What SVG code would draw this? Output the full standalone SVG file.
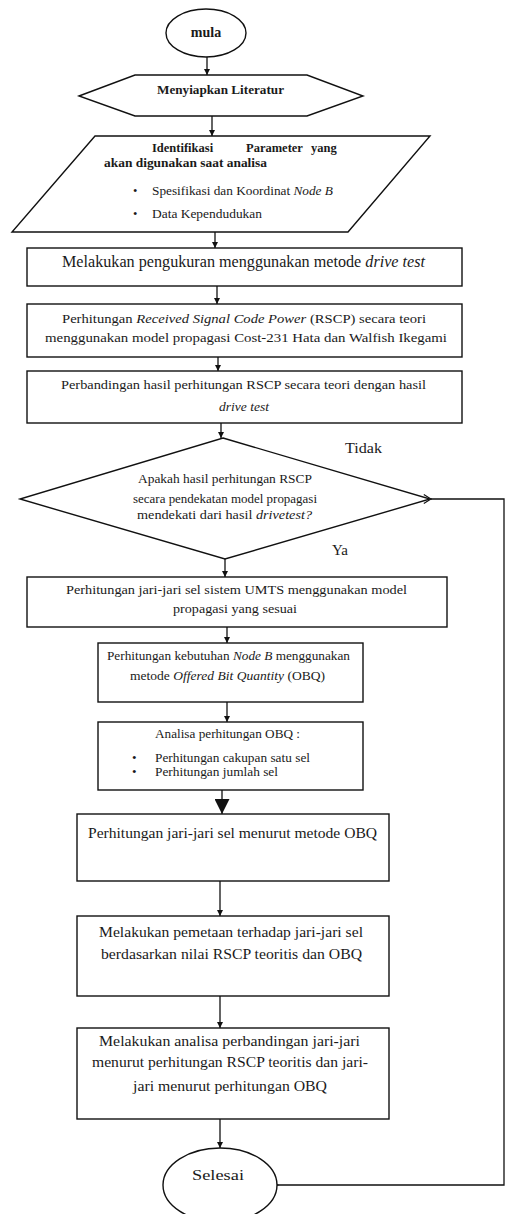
<svg xmlns="http://www.w3.org/2000/svg" width="508" height="1214" viewBox="0 0 508 1214">
<defs>
<marker id="ah" viewBox="0 0 10 10" refX="10" refY="5" markerWidth="6" markerHeight="7" markerUnits="userSpaceOnUse" orient="auto"><path d="M0,0 L10,5 L0,10 z" fill="#111"/></marker>
<marker id="ahBig" viewBox="0 0 10 10" refX="10" refY="5" markerWidth="16" markerHeight="15" markerUnits="userSpaceOnUse" orient="auto"><path d="M0,0 L10,5 L0,10 z" fill="#111"/></marker>
<marker id="open" viewBox="0 0 10 10" refX="1" refY="5" markerWidth="9" markerHeight="10" markerUnits="userSpaceOnUse" orient="auto-start-reverse"><path d="M9,0 L1,5 L9,10" fill="none" stroke="#111" stroke-width="1.3"/></marker>
</defs>
<style>
.s{fill:#fff;stroke:#111;stroke-width:1.4}
.c{fill:none;stroke:#111;stroke-width:1.3}
text{font-family:"Liberation Serif","Times New Roman",serif;fill:#1a1a1a;font-size:12px}
.b{font-weight:bold}
.i{font-style:italic}
.m{text-anchor:middle}
</style>
<rect width="508" height="1214" fill="#fff"/>
<g id="connectors">
<line class="c" x1="207" y1="57" x2="207" y2="75" marker-end="url(#ah)"/>
<line class="c" x1="212" y1="116" x2="212" y2="136" marker-end="url(#ah)"/>
<line class="c" x1="215" y1="232" x2="215" y2="248" marker-end="url(#ah)"/>
<line class="c" x1="217" y1="286" x2="217" y2="304" marker-end="url(#ah)"/>
<line class="c" x1="218" y1="357" x2="218" y2="371" marker-end="url(#ah)"/>
<line class="c" x1="221" y1="423" x2="221" y2="438" marker-end="url(#ah)"/>
<line class="c" x1="225" y1="559" x2="225" y2="577" marker-end="url(#ah)"/>
<line class="c" x1="227" y1="627" x2="227" y2="643" marker-end="url(#ah)"/>
<line class="c" x1="227" y1="702" x2="227" y2="722" marker-end="url(#ah)"/>
<line class="c" x1="222" y1="790" x2="222" y2="814" stroke-width="2.2" marker-end="url(#ahBig)"/>
<line class="c" x1="220" y1="881" x2="220" y2="916" marker-end="url(#ah)"/>
<line class="c" x1="220" y1="996" x2="220" y2="1028" marker-end="url(#ah)"/>
<line class="c" x1="220" y1="1119" x2="220" y2="1148" marker-end="url(#ah)"/>
<path class="c" d="M431,499 H504 V1185 H278" marker-start="url(#open)" marker-end="url(#open)"/>
<text x="345" y="453" style="font-size:15px" textLength="37" lengthAdjust="spacingAndGlyphs">Tidak</text>
<text x="332" y="555" style="font-size:15px">Ya</text>
</g>
<g id="mula">
<ellipse class="s" cx="206" cy="33" rx="40" ry="24"/>
<text class="b m" x="206" y="37" style="font-size:14px">mula</text>
</g>
<g id="literatur">
<polygon class="s" points="79,96 135,75 307,75 363,96 307,116 135,116"/>
<text class="b" x="157" y="94" style="font-size:12.5px" textLength="127" lengthAdjust="spacingAndGlyphs">Menyiapkan Literatur</text>
</g>
<g id="parameter">
<polygon class="s" points="95,136 430,136 348,232 12,232"/>
<text class="b" x="152" y="152" style="font-size:12.5px">Identifikasi</text>
<text class="b" x="246" y="152" style="font-size:12.5px">Parameter</text>
<text class="b" x="311" y="152" style="font-size:12.5px">yang</text>
<text class="b" x="104" y="167" style="font-size:12.5px" textLength="163" lengthAdjust="spacingAndGlyphs">akan digunakan saat analisa</text>
<text x="133" y="195" style="font-size:12.5px">•</text>
<text x="152" y="195" style="font-size:12.5px" textLength="181" lengthAdjust="spacingAndGlyphs">Spesifikasi dan Koordinat <tspan class="i">Node B</tspan></text>
<text x="133" y="218" style="font-size:12.5px">•</text>
<text x="152" y="218" style="font-size:12.5px" textLength="110" lengthAdjust="spacingAndGlyphs">Data Kependudukan</text>
</g>
<g id="drivetest">
<rect class="s" x="27" y="248" width="435" height="38"/>
<text x="62" y="267" style="font-size:16px" textLength="363" lengthAdjust="spacingAndGlyphs">Melakukan pengukuran menggunakan metode <tspan class="i">drive test</tspan></text>
</g>
<g id="rscp">
<rect class="s" x="27" y="304" width="435" height="53"/>
<text x="62" y="323" style="font-size:13.5px" textLength="364" lengthAdjust="spacingAndGlyphs">Perhitungan <tspan class="i">Received  Signal  Code  Power</tspan>  (RSCP)  secara  teori</text>
<text x="45" y="342" style="font-size:13.5px" textLength="402" lengthAdjust="spacingAndGlyphs">menggunakan  model propagasi  Cost-231  Hata  dan  Walfish  Ikegami</text>
</g>
<g id="perbandingan">
<rect class="s" x="27" y="371" width="435" height="52"/>
<text x="61" y="389" style="font-size:13.5px" textLength="365" lengthAdjust="spacingAndGlyphs">Perbandingan  hasil perhitungan RSCP secara teori dengan hasil</text>
<text class="i m" x="244" y="411" style="font-size:13.5px">drive  test</text>
</g>
<g id="keputusan">
<polygon class="s" points="223,438 430,499 225,559 20,499"/>
<text x="138" y="483" style="font-size:13px" textLength="174" lengthAdjust="spacingAndGlyphs">Apakah hasil perhitungan RSCP</text>
<text x="133" y="503" style="font-size:13px" textLength="184" lengthAdjust="spacingAndGlyphs">secara pendekatan model propagasi</text>
<text x="137" y="519" style="font-size:13px" textLength="175" lengthAdjust="spacingAndGlyphs">mendekati  dari hasil <tspan class="i">drivetest?</tspan></text>
</g>
<g id="jarijari">
<rect class="s" x="27" y="577" width="420" height="50"/>
<text x="66" y="594" style="font-size:13.5px" textLength="341" lengthAdjust="spacingAndGlyphs">Perhitungan jari-jari  sel  sistem UMTS menggunakan  model</text>
<text x="173" y="613" style="font-size:13.5px" textLength="124" lengthAdjust="spacingAndGlyphs">propagasi  yang  sesuai</text>
</g>
<g id="nodeb">
<rect class="s" x="98" y="643" width="265" height="59"/>
<text x="107" y="660" style="font-size:13px" textLength="243" lengthAdjust="spacingAndGlyphs">Perhitungan kebutuhan <tspan class="i">Node B</tspan> menggunakan</text>
<text x="130" y="680" style="font-size:13px" textLength="195" lengthAdjust="spacingAndGlyphs">metode <tspan class="i">Offered Bit Quantity</tspan> (OBQ)</text>
</g>
<g id="analisa">
<rect class="s" x="98" y="722" width="265" height="68"/>
<text x="155" y="738" style="font-size:13px" textLength="145" lengthAdjust="spacingAndGlyphs">Analisa perhitungan OBQ :</text>
<text x="132" y="762" style="font-size:13px">•</text>
<text x="155" y="762" style="font-size:13px" textLength="155" lengthAdjust="spacingAndGlyphs">Perhitungan cakupan satu sel</text>
<text x="132" y="776" style="font-size:13px">•</text>
<text x="155" y="776" style="font-size:13px" textLength="123" lengthAdjust="spacingAndGlyphs">Perhitungan jumlah sel</text>
</g>
<g id="jarijariobq">
<rect class="s" x="77" y="814" width="312" height="67"/>
<text x="88" y="838" style="font-size:14.5px" textLength="289" lengthAdjust="spacingAndGlyphs">Perhitungan jari-jari sel menurut metode OBQ</text>
</g>
<g id="pemetaan">
<rect class="s" x="77" y="916" width="312" height="80"/>
<text x="99" y="937" style="font-size:14.5px" textLength="264" lengthAdjust="spacingAndGlyphs">Melakukan pemetaan terhadap jari-jari sel</text>
<text x="101" y="959" style="font-size:14.5px" textLength="261" lengthAdjust="spacingAndGlyphs">berdasarkan nilai RSCP teoritis dan OBQ</text>
</g>
<g id="analisaperbandingan">
<rect class="s" x="77" y="1028" width="312" height="91"/>
<text x="99" y="1046" style="font-size:14.5px" textLength="261" lengthAdjust="spacingAndGlyphs">Melakukan analisa perbandingan jari-jari</text>
<text x="92" y="1067" style="font-size:14.5px" textLength="276" lengthAdjust="spacingAndGlyphs">menurut perhitungan RSCP teoritis dan jari-</text>
<text x="133" y="1091" style="font-size:14.5px" textLength="194" lengthAdjust="spacingAndGlyphs">jari menurut perhitungan OBQ</text>
</g>
<g id="selesai">
<ellipse class="s" cx="220" cy="1185" rx="57" ry="37"/>
<text class="m" x="218" y="1180" style="font-size:15px" textLength="52" lengthAdjust="spacingAndGlyphs">Selesai</text>
</g>
</svg>
